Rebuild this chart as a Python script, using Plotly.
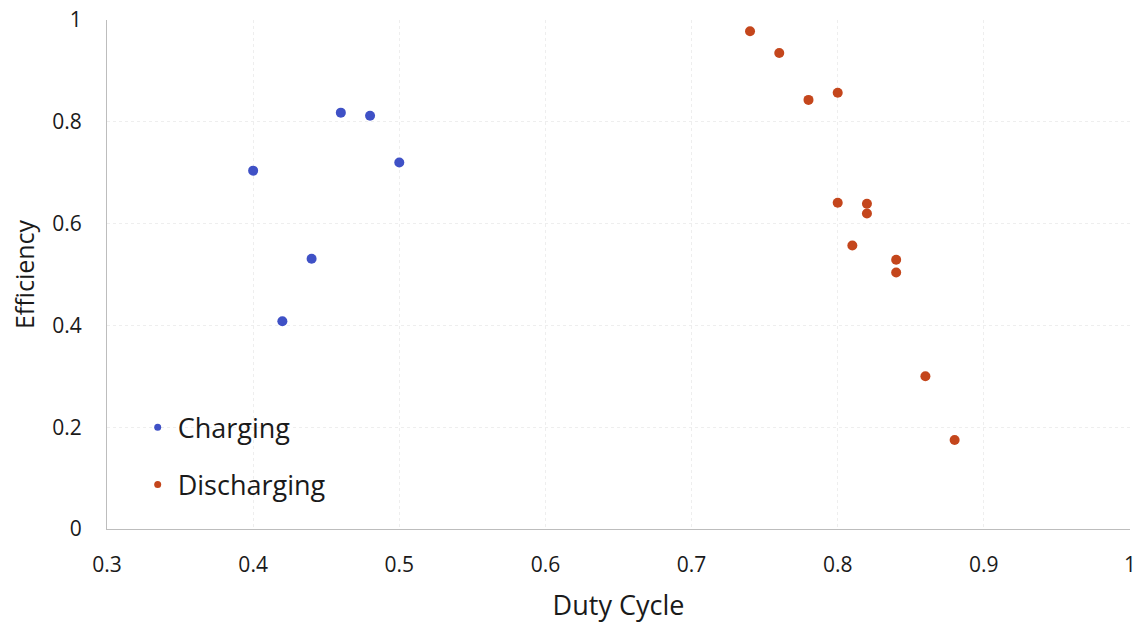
import plotly.graph_objects as go

# Duty cycle vs. efficiency for the two operating modes
charging_duty = [0.40, 0.42, 0.44, 0.46, 0.48, 0.50]
charging_eff = [0.704, 0.408, 0.531, 0.818, 0.812, 0.720]

discharging_duty = [0.74, 0.76, 0.78, 0.80, 0.80, 0.82, 0.82, 0.81, 0.84, 0.84, 0.86, 0.88]
discharging_eff = [0.978, 0.935, 0.843, 0.857, 0.641, 0.639, 0.620, 0.557, 0.529, 0.504, 0.300, 0.175]

x_ticks = [0.3, 0.4, 0.5, 0.6, 0.7, 0.8, 0.9, 1.0]
x_labels = ["0.3", "0.4", "0.5", "0.6", "0.7", "0.8", "0.9", "1"]
y_ticks = [0, 0.2, 0.4, 0.6, 0.8, 1.0]
y_labels = ["0", "0.2", "0.4", "0.6", "0.8", "1"]

BLUE = "#3F51C6"
ORANGE = "#C4461C"
FONT = "Open Sans, Noto Sans, sans-serif"
TEXT = "#1A1A1A"

fig = go.Figure()
series = [
    ("Charging", charging_duty, charging_eff, BLUE),
    ("Discharging", discharging_duty, discharging_eff, ORANGE),
]
for name, xs, ys, color in series:
    fig.add_trace(go.Scatter(
        x=xs, y=ys, mode="markers", name=name, legendgroup=name,
        showlegend=False, marker=dict(color=color, size=10),
    ))
    # legend entry with a smaller swatch
    fig.add_trace(go.Scatter(
        x=[None], y=[None], mode="markers", name=name, legendgroup=name,
        marker=dict(color=color, size=7),
    ))

fig.update_layout(
    width=1138, height=626,
    margin=dict(l=107, r=8, t=20, b=97, autoexpand=False),
    paper_bgcolor="white", plot_bgcolor="white",
    font=dict(family=FONT, color=TEXT),
    showlegend=True,
    legend=dict(
        x=0.03, y=0.247, xanchor="left", yanchor="top",
        bgcolor="rgba(0,0,0,0)", font=dict(size=27, color=TEXT),
        tracegroupgap=19, itemwidth=30,
    ),
)
fig.update_xaxes(
    range=[0.3, 1.0], tickvals=x_ticks, ticktext=x_labels,
    tickfont=dict(size=21, color=TEXT), ticks="", ticklabelstandoff=17,
    ticklabeloverflow="allow", automargin=False,
    showgrid=True, gridcolor="#EEEEEE", gridwidth=1, griddash="dot",
    showline=True, linecolor="#BDBDBD", linewidth=1, mirror=False,
    zeroline=False,
    title=dict(text="Duty Cycle", font=dict(size=27, color=TEXT), standoff=18),
)
fig.update_yaxes(
    range=[0, 1.0], tickvals=y_ticks, ticktext=y_labels,
    tickfont=dict(size=21, color=TEXT), ticks="", ticklabelstandoff=20,
    automargin=False,
    showgrid=True, gridcolor="#EEEEEE", gridwidth=1, griddash="dot",
    showline=True, linecolor="#BDBDBD", linewidth=1,
    zeroline=False,
    title=dict(text="Efficiency", font=dict(size=25, color=TEXT), standoff=10),
)

fig.write_html("out.html")
